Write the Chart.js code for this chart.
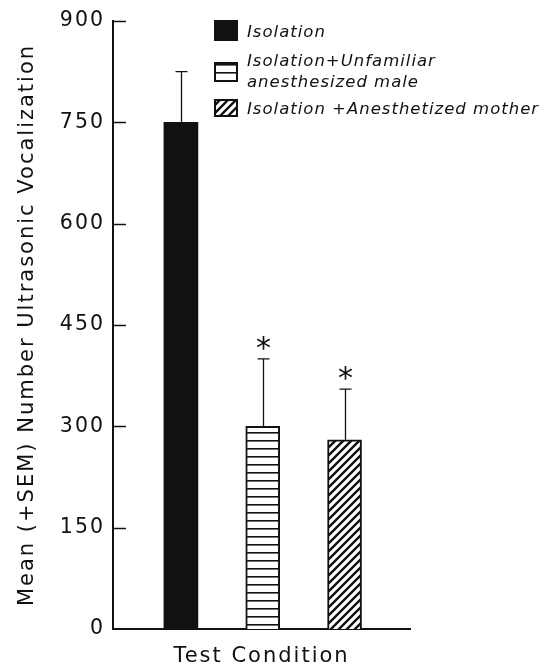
<!DOCTYPE html>
<html>
<head>
<meta charset="utf-8">
<script src="https://cdn.jsdelivr.net/npm/chart.js@4.4.1/dist/chart.umd.min.js"></script>
<style>
  html, body { margin: 0; padding: 0; background: #fff; }
  #wrap { width: 557px; height: 669px; }
</style>
</head>
<body>
<div id="wrap"><canvas id="grafica"></canvas></div>
<script>
// datos
var condiciones = [
  ['Isolation'],
  ['Isolation+Unfamiliar', 'anesthesized male'],
  ['Isolation +Anesthetized mother']
];
var medias = [750, 300, 280];
var sem = [75, 100, 75];
var significativo = [false, true, true];
var ticksY = [0, 150, 300, 450, 600, 750, 900];

var tinta = '#111';

function patronRayas()
{
  var c = document.createElement('canvas');
  c.width = 8; c.height = 8;
  var g = c.getContext('2d');
  g.fillStyle = '#fff';
  g.fillRect(0, 0, 8, 8);
  g.fillStyle = tinta;
  g.fillRect(0, 0, 8, 1.6);
  return g.createPattern(c, 'repeat');
}

function patronDiagonal()
{
  var c = document.createElement('canvas');
  c.width = 8; c.height = 8;
  var g = c.getContext('2d');
  g.fillStyle = '#fff';
  g.fillRect(0, 0, 8, 8);
  g.strokeStyle = tinta;
  g.lineWidth = 2.4;
  g.beginPath();
  g.moveTo(-1, 9); g.lineTo(9, -1);
  g.moveTo(-3, 3); g.lineTo(3, -3);
  g.moveTo(5, 11); g.lineTo(11, 5);
  g.stroke();
  return g.createPattern(c, 'repeat');
}

var rellenos = [tinta, patronRayas(), patronDiagonal()];

// letras algo separadas, como en la figura original
var espaciado = {
  id: 'espaciado',
  beforeDraw: function(chart)
  {
    chart.ctx.letterSpacing = '2px';
  }
};

// barras de error, asteriscos, marcas del eje y leyenda
var extras = {
  id: 'extras',
  afterDatasetsDraw: function(chart)
  {
    var ctx = chart.ctx;
    var x = chart.scales.x, y = chart.scales.y;
    var area = chart.chartArea;
    ctx.save();
    ctx.letterSpacing = '0px';

    // marcas hacia adentro
    ctx.strokeStyle = tinta;
    ctx.lineWidth = 1.5;
    ticksY.forEach(function(v) {
      var py = Math.round(y.getPixelForValue(v)) + 0.5;
      if (v == 0) return;
      ctx.beginPath();
      ctx.moveTo(area.left, py);
      ctx.lineTo(area.left + 13, py);
      ctx.stroke();
    });

    medias.forEach(function(m, i) {
      var px = Math.round(x.getPixelForValue(i)) + 0.5;
      var arriba = y.getPixelForValue(m + sem[i]);
      var base = y.getPixelForValue(m);
      ctx.lineWidth = 1.3;
      ctx.beginPath();
      ctx.moveTo(px, base);
      ctx.lineTo(px, arriba);
      ctx.moveTo(px - 6, arriba);
      ctx.lineTo(px + 6, arriba);
      ctx.stroke();
      if (significativo[i])
      {
        ctx.fillStyle = tinta;
        ctx.font = '30px "DejaVu Sans"';
        ctx.textAlign = 'center';
        ctx.textBaseline = 'middle';
        ctx.fillText('*', px, arriba - 9);
      }
    });

    // leyenda
    var lx = 215;
    var filas = [21, 63, 100];
    ctx.font = 'italic 16.5px "DejaVu Sans"';
    ctx.letterSpacing = '1px';
    ctx.textAlign = 'left';
    ctx.textBaseline = 'middle';
    condiciones.forEach(function(lineas, i) {
      var ty = filas[i];
      var alto = lineas.length > 1 ? 18 : (i == 0 ? 19 : 16);
      var cy = ty + alto / 2;
      ctx.fillStyle = rellenos[i];
      ctx.fillRect(lx, ty, 22, alto);
      ctx.strokeStyle = tinta;
      ctx.lineWidth = 2;
      ctx.strokeRect(lx, ty, 22, alto);
      ctx.fillStyle = tinta;
      if (lineas.length > 1)
      {
        ctx.fillText(lineas[0], lx + 32, cy - 10);
        ctx.fillText(lineas[1], lx + 32, cy + 11);
      }
      else
      {
        ctx.fillText(lineas[0], lx + 32, cy + 2);
      }
    });
    ctx.restore();
  }
};

var chart = new Chart(document.getElementById('grafica'), {
  type: 'bar',
  data: {
    datasets: [{
      label: 'Mean',
      data: medias.map(function(m, i) { return { x: i, y: m }; }),
      backgroundColor: rellenos,
      borderColor: tinta,
      borderWidth: [0, 2, 2],
      barThickness: 34
    }]
  },
  options: {
    responsive: true,
    maintainAspectRatio: false,
    animation: false,
    layout: { padding: { left: 0, right: 147, top: 21, bottom: 0 } },
    plugins: {
      legend: { display: false },
      tooltip: { enabled: false }
    },
    scales: {
      x: {
        type: 'linear',
        offset: false,
        min: -0.83,
        max: 2.8,
        grid: { display: false },
        border: { display: true, color: tinta, width: 2 },
        ticks: { display: false },
        title: {
          display: true,
          text: 'Test Condition',
          color: tinta,
          font: { family: 'DejaVu Sans', size: 21 },
          padding: { top: 12, bottom: 0 }
        },
        afterFit: function(s) { s.height = 40; }
      },
      y: {
        min: 0,
        max: 900,
        afterBuildTicks: function(s) {
          s.ticks = ticksY.map(function(v) { return { value: v }; });
        },
        grid: { display: false },
        border: { display: true, color: tinta, width: 2 },
        ticks: {
          color: tinta,
          padding: 0,
          font: { family: 'DejaVu Sans', size: 20.5 }
        },
        title: {
          display: true,
          text: 'Mean (+SEM) Number Ultrasonic Vocalization',
          color: tinta,
          font: { family: 'DejaVu Sans', size: 21 },
          padding: { top: 15, bottom: 0 }
        },
        afterFit: function(s) { s.width = 113; }
      }
    }
  },
  plugins: [espaciado, extras]
});
</script>
</body>
</html>
